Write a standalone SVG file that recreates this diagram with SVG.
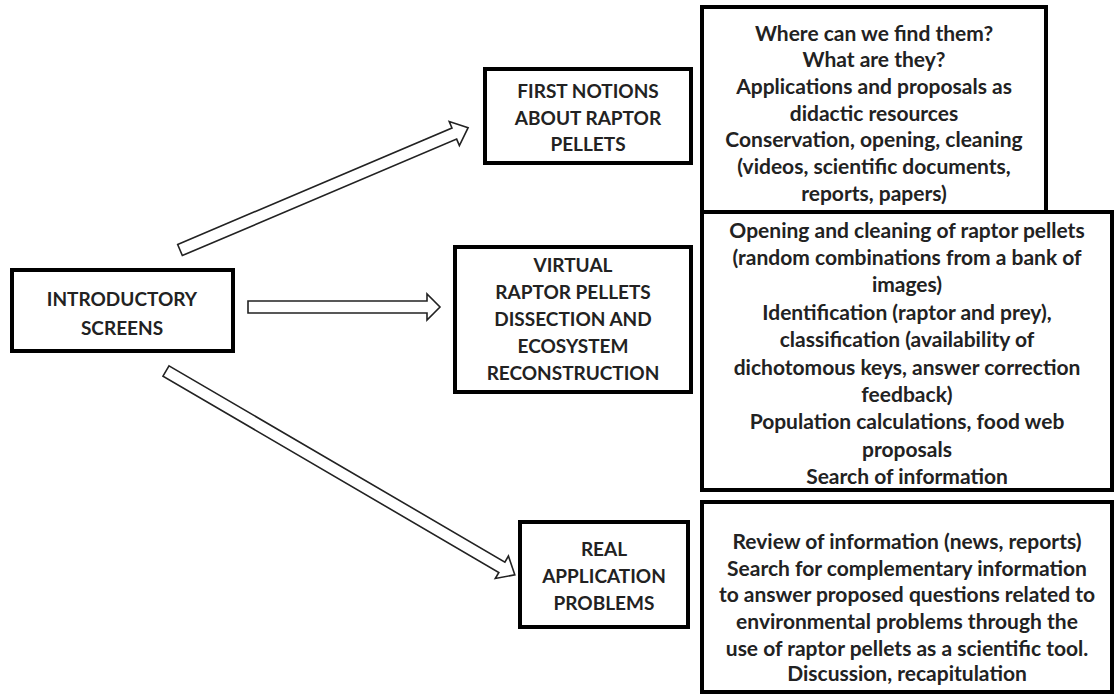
<svg xmlns="http://www.w3.org/2000/svg" width="1117" height="695" viewBox="0 0 1117 695">
<style>
.box{fill:#fff;stroke:#000;stroke-width:4}
.arrow{fill:#fff;stroke:#222;stroke-width:1.6;stroke-linejoin:miter}
text{font-family:Lato,"Open Sans","Liberation Sans",sans-serif;font-weight:bold;fill:#222;text-anchor:middle;dominant-baseline:central}
.t{font-size:21px}
.m{font-size:19px}
</style>
<rect width="1117" height="695" fill="#fff"/>
<g id="connectors">
<polygon class="arrow" transform="translate(180,250) rotate(-23)" points="0,-6 298,-6 298,-13 313,0 298,13 298,6 0,6"/>
<polygon class="arrow" transform="translate(248,307)" points="0,-6 179,-6 179,-13 192,0 179,13 179,6 0,6"/>
<polygon class="arrow" transform="translate(166,371) rotate(30.3)" points="0,-6 389,-6 389,-13 404,0 389,13 389,6 0,6"/>
</g>
<g id="intro">
<rect class="box" x="12" y="270" width="221" height="81"/>
<text class="m" x="122" y="298">INTRODUCTORY</text>
<text class="m" x="122" y="327">SCREENS</text>
</g>
<g id="first">
<rect class="box" x="485" y="69" width="206" height="94"/>
<text class="m" x="588" y="90">FIRST NOTIONS</text>
<text class="m" x="588" y="117">ABOUT RAPTOR</text>
<text class="m" x="588" y="143">PELLETS</text>
</g>
<g id="virtual">
<rect class="box" x="455" y="247" width="236" height="145"/>
<text class="m" x="573" y="264">VIRTUAL</text>
<text class="m" x="573" y="291">RAPTOR PELLETS</text>
<text class="m" x="573" y="318">DISSECTION AND</text>
<text class="m" x="573" y="345">ECOSYSTEM</text>
<text class="m" x="573" y="372">RECONSTRUCTION</text>
</g>
<g id="real">
<rect class="box" x="520" y="522" width="168" height="105"/>
<text class="m" x="604" y="548">REAL</text>
<text class="m" x="604" y="575">APPLICATION</text>
<text class="m" x="604" y="602">PROBLEMS</text>
</g>
<g id="detail1">
<rect class="box" x="702" y="7" width="344" height="205"/>
<text class="t" x="874" y="32">Where can we find them?</text>
<text class="t" x="874" y="58">What are they?</text>
<text class="t" x="874" y="85">Applications and proposals as</text>
<text class="t" x="874" y="112">didactic resources</text>
<text class="t" x="874" y="138">Conservation, opening, cleaning</text>
<text class="t" x="874" y="165">(videos, scientific documents,</text>
<text class="t" x="874" y="192">reports, papers)</text>
</g>
<g id="detail2">
<rect class="box" x="702" y="212" width="410" height="278"/>
<text class="t" x="907" y="229">Opening and cleaning of raptor pellets</text>
<text class="t" x="907" y="256">(random combinations from a bank of</text>
<text class="t" x="907" y="283">images)</text>
<text class="t" x="907" y="311">Identification (raptor and prey),</text>
<text class="t" x="907" y="338">classification (availability of</text>
<text class="t" x="907" y="366">dichotomous keys, answer correction</text>
<text class="t" x="907" y="393">feedback)</text>
<text class="t" x="907" y="420">Population calculations, food web</text>
<text class="t" x="907" y="448">proposals</text>
<text class="t" x="907" y="475">Search of information</text>
</g>
<g id="detail3">
<rect class="box" x="702" y="502" width="410" height="190"/>
<text class="t" x="907" y="540">Review of information (news, reports)</text>
<text class="t" x="907" y="567">Search for complementary information</text>
<text class="t" x="907" y="593">to answer proposed questions related to</text>
<text class="t" x="907" y="620">environmental problems through the</text>
<text class="t" x="907" y="647">use of raptor pellets as a scientific tool.</text>
<text class="t" x="907" y="672">Discussion, recapitulation</text>
</g>
</svg>
